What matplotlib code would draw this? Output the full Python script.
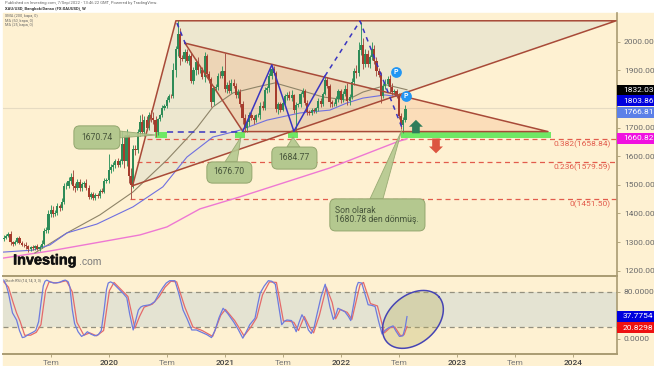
import numpy as np
import matplotlib
matplotlib.use('Agg')
import matplotlib.pyplot as plt
import matplotlib.patheffects as pe
from matplotlib.patches import Rectangle, FancyBboxPatch
from matplotlib.transforms import blended_transform_factory

plt.rcParams['font.family'] = ['Roboto', 'DejaVu Sans']

BG = '#FEF1D2'
EDGE = '#A84A38'
TAN = '#A99B72'
BLUE = '#3A35C0'
FIB = '#E25C4C'

# weekly closes and wick lengths (USD)
closes_2019 = [1316, 1322, 1329, 1299, 1294, 1302, 1313, 1298, 1291, 1290, 1285, 1275, 1282, 1279, 1286, 1277,
               1283, 1295, 1340, 1341, 1399, 1412, 1398, 1400, 1425, 1419, 1441, 1497, 1497, 1512, 1528, 1497,
               1488, 1510, 1488, 1503, 1505, 1488, 1458, 1468, 1455, 1465, 1460, 1478, 1476, 1512, 1517]
closes_2020 = [1552, 1562, 1571, 1584, 1570, 1582, 1644, 1585, 1674, 1530, 1498, 1625, 1620, 1684, 1718, 1683,
               1727, 1700, 1743, 1735, 1726, 1683, 1729, 1743, 1770, 1775, 1798, 1810, 1809, 1902, 1975, 2028,
               1944, 1940, 1964, 1934, 1950, 1862, 1900, 1930, 1900, 1902, 1878, 1950, 1888, 1870, 1788, 1837,
               1840, 1881, 1880, 1896]
closes_2021 = [1835, 1850, 1828, 1856, 1846, 1814, 1823, 1784, 1734, 1698, 1719, 1744, 1733, 1728, 1743, 1744,
               1777, 1768, 1832, 1838, 1881, 1904, 1892, 1764, 1781, 1763, 1787, 1810, 1815, 1802, 1814, 1763,
               1780, 1781, 1816, 1828, 1787, 1754, 1751, 1761, 1757, 1767, 1793, 1783, 1818, 1865, 1846, 1788,
               1783, 1784, 1799, 1828]
closes_2022 = [1797, 1817, 1835, 1792, 1808, 1859, 1899, 1889, 1970, 1988, 1921, 1958, 1923, 1945, 1974, 1932,
               1896, 1883, 1811, 1846, 1853, 1871, 1840, 1826, 1828, 1812, 1742, 1708, 1727, 1766]
wick_up = [8, 6, 5, 10, 6, 7, 4, 8, 6, 7, 10, 5, 6, 8, 5, 6, 7, 12, 8, 10, 12, 16, 14, 12, 13, 8, 12, 8, 12, 15,
           14, 25, 10, 12, 12, 8, 10, 15, 12, 8, 7, 5, 8, 7, 10, 12, 8,
           55, 10, 8, 6, 10, 8, 45, 30, 20, 5, 30, 15, 15, 10, 25, 30, 15, 15, 10, 20, 20, 15, 6, 6, 10, 8, 8, 7, 8, 25,
           10, 47, 20, 10, 10, 10, 8, 12, 10, 8, 15, 10, 8, 15, 8, 10, 5, 8, 12, 10, 15, 20,
           63, 10, 15, 12, 15, 10, 12, 12, 8, 15, 8, 10, 10, 12, 5, 8, 12, 15, 10, 6, 8, 12, 10, 6, 10, 8, 10, 8, 8, 12,
           18, 3, 8, 6, 10, 10, 8, 10, 7, 8, 6, 5, 10, 10, 8, 12, 12, 6, 8, 6, 10, 8,
           8, 10, 15, 20, 8, 15, 10, 20, 30, 82, 25, 15, 12, 10, 25, 15, 15, 12, 10, 10, 15, 8, 12, 15, 8, 6, 8, 10, 10, 12]
wick_dn = [6, 5, 4, 8, 6, 5, 6, 4, 5, 6, 8, 8, 5, 5, 6, 5, 8, 4, 6, 8, 8, 10, 12, 8, 5, 10, 6, 8, 10, 7,
           8, 14, 12, 6, 10, 8, 12, 6, 6, 8, 7, 8, 6, 6, 5, 5, 6,
           10, 10, 12, 12, 6, 8, 10, 25, 20, 25, 47, 10, 15, 10, 15, 8, 12, 10, 8, 15, 12, 15, 8, 7, 6, 10, 5, 8, 7, 5,
           25, 25, 25, 8, 12, 10, 15, 5, 10, 15, 12, 8, 10, 20, 8, 15, 15, 10, 6, 10, 6, 8,
           10, 15, 8, 8, 8, 10, 10, 12, 20, 12, 15, 15, 8, 15, 10, 6, 15, 8, 6, 12, 12, 10, 10, 10, 15, 8, 6, 8, 14, 5,
           8, 12, 79, 8, 10, 10, 8, 10, 6, 8, 7, 6, 8, 10, 8, 5, 8, 15, 10, 8, 8, 8,
           10, 8, 6, 12, 12, 8, 10, 15, 8, 15, 15, 10, 10, 15, 8, 10, 15, 8, 25, 8, 12, 8, 20, 12, 8, 8, 12, 12, 28, 6]

# moving averages
ma_pink_x = [2019.082, 2019.487, 2019.918, 2020.263, 2020.496, 2020.78, 2021.125, 2021.9, 2022.478, 2022.565]
ma_pink_y = [1244, 1269, 1300, 1325, 1353, 1416, 1458, 1559, 1650, 1660.82]
ma_blue_x = [2019.082, 2019.34, 2019.487, 2019.634, 2019.892, 2020.203, 2020.461, 2020.668, 2020.892, 2021.125,
             2021.358, 2021.642, 2021.9, 2022.047, 2022.185, 2022.375, 2022.565]
ma_blue_y = [1265, 1272, 1290, 1332, 1363, 1423, 1493, 1597, 1667, 1691, 1726, 1751, 1761, 1786, 1803, 1814, 1803.86]
ma_gray_x = [2019.358, 2019.634, 2019.918, 2020.203, 2020.496, 2020.754, 2020.892, 2021.065, 2021.272, 2021.427,
             2021.642, 2021.84, 2022.047, 2022.185, 2022.392, 2022.565]
ma_gray_y = [1262, 1332, 1395, 1475, 1587, 1699, 1772, 1821, 1842, 1856, 1831, 1807, 1796, 1824, 1849, 1832.03]

# stochastic RSI
stoch_k_x = [2019.09, 2019.11, 2019.13, 2019.15, 2019.165, 2019.2, 2019.225, 2019.25, 2019.27, 2019.3, 2019.32, 2019.34,
             2019.365, 2019.39, 2019.41, 2019.43, 2019.445, 2019.46, 2019.49, 2019.52, 2019.57, 2019.6, 2019.62, 2019.645,
             2019.66, 2019.68, 2019.7, 2019.73, 2019.76, 2019.785, 2019.81, 2019.84, 2019.875, 2019.905, 2019.93, 2019.955,
             2019.975, 2019.99, 2020.01, 2020.03, 2020.06, 2020.09, 2020.12, 2020.15, 2020.175, 2020.205, 2020.225, 2020.25,
             2020.27, 2020.29, 2020.35, 2020.39, 2020.425, 2020.46, 2020.49, 2020.52, 2020.565, 2020.6, 2020.635, 2020.67,
             2020.71, 2020.75, 2020.795, 2020.84, 2020.88, 2020.91, 2020.945, 2020.98, 2021.02, 2021.07, 2021.11, 2021.15,
             2021.18, 2021.21, 2021.255, 2021.28, 2021.3, 2021.335, 2021.37, 2021.4, 2021.43, 2021.46, 2021.485, 2021.51,
             2021.53, 2021.57, 2021.61, 2021.635, 2021.66, 2021.69, 2021.715, 2021.74, 2021.765, 2021.785, 2021.825, 2021.86,
             2021.885, 2021.9, 2021.93, 2021.95, 2021.97, 2022.0, 2022.03, 2022.06, 2022.08, 2022.11, 2022.13, 2022.145,
             2022.175, 2022.205, 2022.23, 2022.26, 2022.29, 2022.32, 2022.35, 2022.375, 2022.4, 2022.445, 2022.47, 2022.5,
             2022.53, 2022.55, 2022.565]
stoch_k = [100, 92, 78, 58, 44, 32, 14, 2, 3, 7, 9, 11,
           14, 29, 60, 90, 98, 100, 97, 95, 96, 99, 100, 97,
           88, 50, 26, 12, 4, 7, 12, 8, 5, 7, 14, 50,
           84, 95, 97, 95, 89, 83, 77, 70, 42, 15, 30, 49,
           54, 56, 58, 63, 76, 87, 95, 99, 99, 76, 49, 34,
           15, 15, 11, 7, 2, 14, 36, 52, 43, 29, 16, 1,
           12, 24, 35, 60, 78, 90, 99, 98, 93, 55, 24, 30,
           32, 31, 12, 28, 41, 30, 15, 9, 20, 38, 72, 93,
           70, 55, 33, 40, 52, 49, 46, 38, 31, 64, 88, 96,
           95, 75, 58, 57, 55, 30, 8, 14, 18, 22, 13, 4,
           5, 20, 37.78]
stoch_d_x = [2019.09, 2019.13, 2019.17, 2019.2, 2019.23, 2019.27, 2019.32, 2019.37, 2019.41, 2019.45, 2019.48, 2019.54,
             2019.63, 2019.68, 2019.72, 2019.78, 2019.83, 2019.89, 2019.95, 2020.0, 2020.04, 2020.1, 2020.16, 2020.22,
             2020.26, 2020.3, 2020.37, 2020.43, 2020.48, 2020.53, 2020.58, 2020.65, 2020.72, 2020.8, 2020.89, 2020.96,
             2021.0, 2021.08, 2021.16, 2021.22, 2021.27, 2021.32, 2021.38, 2021.44, 2021.5, 2021.55, 2021.59, 2021.63,
             2021.68, 2021.73, 2021.76, 2021.81, 2021.87, 2021.92, 2021.95, 2021.99, 2022.05, 2022.09, 2022.16, 2022.19,
             2022.25, 2022.31, 2022.37, 2022.42, 2022.46, 2022.51, 2022.54, 2022.565]
stoch_d = [97, 88, 62, 44, 30, 6, 6, 11, 24, 82, 97, 95,
           99, 80, 28, 6, 10, 5, 14, 82, 96, 84, 72, 18,
           38, 54, 59, 72, 88, 98, 97, 54, 20, 14, 4, 40,
           50, 31, 5, 20, 36, 75, 97, 96, 30, 30, 28, 14,
           38, 18, 10, 40, 88, 62, 34, 50, 45, 33, 92, 96,
           60, 56, 10, 19, 20, 5, 7, 20.83]

# drawn shapes
tri_big_x = [2020.20, 2020.573, 2024.367]
tri_big_y = [1497, 2073, 2073]
tri_small_x = [2020.651, 2023.78, 2021.151]
tri_small_y = [1995, 1686, 1686]
zig_solid_x = [2021.15, 2021.40, 2021.59, 2021.858]
zig_solid_y = [1687, 1919, 1687, 1880]
zig_dash_x = [2021.858, 2022.16, 2022.53]
zig_dash_y = [1880, 2072, 1691]
zig_first_x = [2020.582, 2020.66]
zig_first_y = [2065, 1988]
green_zones = [(2020.392, 2020.496), (2021.082, 2021.168), (2021.539, 2021.625), (2022.513, 2023.806)]
arrow_up_x = [2022.642, 2022.702, 2022.675, 2022.675, 2022.609, 2022.609, 2022.582]
arrow_up_y = [1727, 1703, 1703, 1680, 1680, 1703, 1703]
arrow_dn_x = [2022.815, 2022.875, 2022.848, 2022.848, 2022.782, 2022.782, 2022.755]
arrow_dn_y = [1610, 1634, 1634, 1662, 1662, 1634, 1634]
fib_prices = [1658.84, 1579.59, 1451.5]
fib_starts = [2020.323, 2020.237, 2020.177]
fib_labels = ['0.382(1658.84)', '0.236(1579.59)', '0(1451.50)']
fib_label_y = [1643, 1562, 1433]

year_ticks = [2019.5, 2020, 2020.5, 2021, 2021.5, 2022, 2022.5, 2023, 2023.5, 2024]
year_labels = ['Tem', '2020', 'Tem', '2021', 'Tem', '2022', 'Tem', '2023', 'Tem', '2024']
price_ticks = [2000, 1900, 1700, 1600, 1500, 1400, 1300, 1200]

closes = np.array(closes_2019 + closes_2020 + closes_2021 + closes_2022, dtype=float)
opens = np.r_[1310, closes[:-1]]
years = 2019.09 + np.arange(len(closes)) / 52.0
highs = np.maximum(opens, closes) + np.array(wick_up)
lows = np.minimum(opens, closes) - np.array(wick_dn)

W, H = 654, 366
fig = plt.figure(figsize=(W / 100, H / 100), dpi=100, facecolor='white')
fig.add_artist(Rectangle((3 / W, 0), 1 - 3 / W, 1 - 13 / H, transform=fig.transFigure, color=BG, zorder=-5))
ax = fig.add_axes([3 / W, 1 - 276 / H, 614 / W, 263 / H], facecolor='none')
ax2 = fig.add_axes([3 / W, 1 - 354.3 / H, 614 / W, 78.3 / H], facecolor='none')
XLIM = (2019.083, 2024.375)
ax.set_xlim(XLIM)
ax.set_ylim(1181.6, 2100.2)
ax2.set_xlim(XLIM)
ax2.set_ylim(-26.5, 107)

# main pane
ax.axhline(1766.81, color='#E6DBC2', lw=0.8, zorder=0)
ax.fill(tri_big_x, tri_big_y, color='#8CB4BE', alpha=0.15, lw=0, zorder=1)
ax.fill(tri_small_x, tri_small_y, color='#F08040', alpha=0.17, lw=0, zorder=1)
for a, b in green_zones:
    ax.fill_between([a, b], 1664, 1685, color='#6FE865', lw=0, zorder=2)
for p, s in zip(fib_prices, fib_starts):
    ax.plot([s, XLIM[1]], [p, p], color=FIB, lw=0.9, dashes=(4, 3), zorder=2)
for lab, y in zip(fib_labels, fib_label_y):
    ax.text(2024.323, y, lab, color=FIB, fontsize=6, ha='right', va='center')

ax.plot(ma_pink_x, ma_pink_y, color='#EE78D2', lw=1, zorder=3)
ax.plot(ma_gray_x, ma_gray_y, color='#8E8468', lw=0.8, zorder=3)
ax.plot(ma_blue_x, ma_blue_y, color='#6F6FE0', lw=0.8, zorder=3)

up = closes >= opens
ax.vlines(years[up], lows[up], highs[up], color='#3C9A66', lw=0.7, zorder=4)
ax.vlines(years[~up], lows[~up], highs[~up], color='#A9564A', lw=0.7, zorder=4)
ax.bar(years[up], (closes - opens)[up], bottom=opens[up], width=0.0185, color='#2E8B57', lw=0, zorder=5)
ax.bar(years[~up], (opens - closes)[~up], bottom=closes[~up], width=0.0185, color='#A63C2C', lw=0, zorder=5)

# triangle outlines and zigzag
ax.plot(tri_big_x + tri_big_x[:1], tri_big_y + tri_big_y[:1], color=EDGE, lw=1.1, zorder=6)
ax.plot(tri_small_x + tri_small_x[:1], tri_small_y + tri_small_y[:1], color=EDGE, lw=1.1, zorder=6)
ax.plot(zig_solid_x, zig_solid_y, color=BLUE, lw=1.1, zorder=7)
ax.plot(zig_dash_x, zig_dash_y, color=BLUE, lw=1.1, dashes=(3, 3), zorder=7)
ax.plot(zig_first_x, zig_first_y, color=BLUE, lw=1.1, dashes=(3, 3), zorder=7)
ax.plot([2020.5, 2021.14], [1684, 1684], color=BLUE, lw=1.1, dashes=(4, 3), zorder=7)

ax.fill(arrow_up_x, arrow_up_y, color='#2F7D5B', lw=0, zorder=8)
ax.fill(arrow_dn_x, arrow_dn_y, color='#DC5540', lw=0, zorder=8)

ax.scatter([2022.467, 2022.556], [1895, 1811], s=60, color='#2196F3', lw=0, zorder=9)
ax.text(2022.467, 1894, 'P', color='white', fontsize=5, fontweight='bold', ha='center', va='center', zorder=10)
ax.text(2022.556, 1810, 'P', color='white', fontsize=5, fontweight='bold', ha='center', va='center', zorder=10)


def callout(x0, x1, y0, y1, tail_x, tail_y, text, tx, ty, ha='center'):
    ax.fill(tail_x, tail_y, color='#B4C88F', ec='#93A66E', lw=0.6, alpha=0.9, zorder=8)
    box = FancyBboxPatch((x0, y0), x1 - x0, y1 - y0, boxstyle='round,pad=0,rounding_size=0.05',
                         mutation_aspect=405, fc='#B4C88F', ec='#93A66E', lw=0.7, zorder=9)
    ax.add_patch(box)
    ax.text(tx, ty, text, color='#46543A', fontsize=6.2, ha=ha, va='center', linespacing=1.05, zorder=10)


callout(2019.694, 2020.09, 1625, 1706, [2020.09, 2020.09, 2020.40], [1688, 1664, 1674], '1670.74', 2019.892, 1667)
callout(2020.84, 2021.228, 1506, 1580, [2020.996, 2021.10, 2021.134], [1580, 1580, 1667], '1676.70', 2021.033, 1546)
callout(2021.40, 2021.789, 1555, 1632, [2021.53, 2021.642, 2021.582], [1632, 1632, 1667], '1684.77', 2021.59, 1597)
callout(2021.90, 2022.72, 1339, 1451, [2022.246, 2022.358, 2022.52], [1451, 1451, 1691],
        'Son olarak\n1680.78 den dönmüş.', 2021.944, 1395, ha='left')

# logo
t = ax.text(2019.17, 1236, 'Investing', color='#111111', fontsize=10.4, fontweight='bold',
            family=['Liberation Sans'], va='center', zorder=11)
t.set_path_effects([pe.withStroke(linewidth=0.4, foreground='#111111')])
ax.text(2019.735, 1231, '.com', color='#7A7A7A', fontsize=7.5, family=['Liberation Sans'], va='center', zorder=11)

ax.text(2019.10, 2088, 'SMA (200, kapa, 0)', color='#666666', fontsize=2.8, va='center')
ax.text(2019.10, 2073, 'MA (50, kapa, 0)', color='#666666', fontsize=2.8, va='center')
ax.text(2019.10, 2058, 'MA (25, kapa, 0)', color='#666666', fontsize=2.8, va='center')

# oscillator pane
ax2.fill_between(XLIM, 20, 80, color='#E4E3D2', lw=0, zorder=0)
ax2.axhline(80, color='#94907E', lw=0.9, dashes=(4, 3), zorder=1)
ax2.axhline(20, color='#94907E', lw=0.9, dashes=(4, 3), zorder=1)
ax2.plot(stoch_d_x, stoch_d, color='#E56A6A', lw=0.9, zorder=3)
ax2.plot(stoch_k_x, stoch_k, color='#6D7BDE', lw=0.9, zorder=4)
ax2.text(2019.10, 100, 'Stoch RSI (14, 14, 3, 3)', color='#555555', fontsize=2.6, va='center')

ang = np.linspace(0, 2 * np.pi, 200)
ell_x = 2022.616 + (34.5 * np.cos(ang) * np.cos(np.radians(41)) - 24 * np.sin(ang) * np.sin(np.radians(41))) / 116
ell_y = 33 + (34.5 * np.cos(ang) * np.sin(np.radians(41)) + 24 * np.sin(ang) * np.cos(np.radians(41))) / 0.5875
ax2.fill(ell_x, ell_y, fc='#B4AC5A', alpha=0.3, lw=0, zorder=2)
ax2.plot(ell_x, ell_y, color='#4644B4', lw=1.1, zorder=5)

# axes furniture
for a in (ax, ax2):
    for s in ('top', 'left'):
        a.spines[s].set_visible(False)
    a.spines['right'].set_color(TAN)
    a.spines['right'].set_linewidth(1.2)
    a.spines['bottom'].set_color(TAN)
    a.spines['bottom'].set_linewidth(1.4)
    a.yaxis.tick_right()
    a.tick_params(axis='y', length=2.5, width=0.6, color=TAN, labelsize=6, labelcolor='#6A6A6A', pad=2.5)
ax.set_xticks([])
ax.set_yticks(price_ticks)
ax.set_yticklabels(['%.2f' % p for p in price_ticks])
ax2.set_yticks([80, 0])
ax2.set_yticklabels(['80.0000', '0.0000'])
ax2.set_xticks(year_ticks)
ax2.set_xticklabels(year_labels)
ax2.tick_params(axis='x', length=2, width=0.6, color=TAN, labelsize=6, pad=2)
for lab, txt in zip(ax2.get_xticklabels(), year_labels):
    lab.set_color('#7A7A7A' if txt == 'Tem' else '#444444')
    lab.set_fontweight('normal' if txt == 'Tem' else 'medium')

# price boxes on the right edge
box_h = 38.4
for y, txt, col in [(1831, '1832.03', '#000000'), (1793, '1803.86', '#0000DD'), (1753, '1766.81', '#5C80E8'),
                    (1663, '1660.82', '#F010E0')]:
    tr = blended_transform_factory(ax.transAxes, ax.transData)
    ax.add_patch(Rectangle((1.0, y - box_h / 2), 0.0603, box_h, transform=tr, color=col, clip_on=False, lw=0, zorder=12))
    ax.text(1.0095, y, txt, transform=tr, color='white', fontsize=6, va='center', clip_on=False, zorder=13)
box_h2 = 18.7
for y, txt, col in [(38, '37.7754', '#0000DD'), (18.7, '20.8298', '#EE1111')]:
    tr = blended_transform_factory(ax2.transAxes, ax2.transData)
    ax2.add_patch(Rectangle((1.0, y - box_h2 / 2), 0.0603, box_h2, transform=tr, color=col, clip_on=False, lw=0, zorder=12))
    ax2.text(1.0095, y, txt, transform=tr, color='white', fontsize=6, va='center', clip_on=False, zorder=13)

# header
fig.text(5 / W, 1 - 3 / H, 'Published on Investing.com, 7/Sep/2022 - 13:46:22 GMT, Powered by TradingView.',
         color='#666666', fontsize=3, va='center')
fig.text(5 / W, 1 - 8.5 / H, 'XAU/USD, Bangkok/Dansıı (FX:XAUUSD), W', color='#333333', fontsize=3, fontweight='bold',
         va='center')

fig.savefig('out.png', dpi=100)
